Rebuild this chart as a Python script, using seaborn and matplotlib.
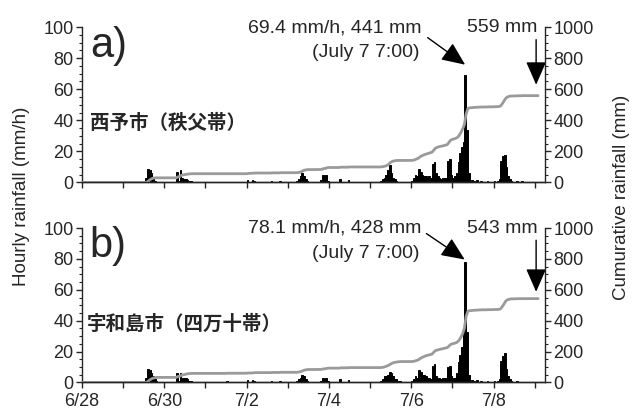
import numpy as np
import pandas as pd
import matplotlib
matplotlib.use('Agg')
import matplotlib.pyplot as plt
from matplotlib.ticker import MultipleLocator
import seaborn as sns

# Hourly rainfall (mm/h); hours counted from 6/28 0:00, only hours with rain listed

hours_a = ([37, 38, 39, 40, 41, 42]
           + [55, 56, 57, 58, 59, 60, 61, 62, 63]
           + [96, 97, 99, 100, 110, 115]
           + [125, 126, 127, 128, 129, 130, 131, 133, 139, 140, 141, 142, 143, 150, 155]
           + list(range(174, 184))
           + list(range(192, 219))
           + [219, 220, 221, 222, 223, 224, 225, 227, 228, 230, 232, 236, 240]
           + list(range(242, 251)) + [253, 256])
rain_a = ([3, 9, 8, 6, 3, 1]
          + [7, 1, 8, 3, 2, 2, 1.5, 1, 1]
          + [1.5, 0.5, 1.5, 1, 1, 1]
          + [1, 2, 4, 6, 4, 2, 1, 0.5, 1.5, 5, 0.5, 5, 1, 2, 1.5]
          + [1, 2, 3, 5, 8, 11, 6, 3, 2, 1]
          + [1, 3, 5, 4, 9, 7, 5, 4, 4, 3, 4, 3, 12, 13.5, 6, 4, 3, 2, 3, 3, 3, 14, 15, 5, 3, 4, 6]
          + [13, 19, 23, 26, 69.4, 34, 6, 1.5, 1, 1.5, 1, 1, 1]
          + [1, 2, 14, 17, 18, 10, 4, 2, 1, 1, 1])

hours_b = ([37, 38, 39, 40, 41, 42, 43]
           + [55, 56, 57, 58, 59, 60, 61, 62, 63]
           + [84, 96, 99, 100, 110, 115]
           + [125, 126, 127, 128, 129, 130, 131, 133, 139, 140, 141, 142, 143, 150, 155]
           + list(range(174, 186))
           + list(range(192, 219))
           + [219, 220, 221, 222, 223, 224, 225, 227, 228, 230, 232, 236, 240]
           + list(range(242, 251)) + [253, 256])
rain_b = ([3, 9, 8, 6, 4, 2, 1]
          + [6, 1, 6, 3, 3, 3, 2, 1, 1]
          + [1, 1.5, 1.5, 1, 1, 1]
          + [1, 2, 3, 5, 4, 2, 1, 0.5, 1, 3, 0.5, 3, 1, 2, 1.5]
          + [1, 2, 4, 4, 5, 7, 6, 4, 2, 2, 1, 1]
          + [1, 2, 4, 3, 8, 7, 5, 5, 4, 3, 3, 2, 11, 12, 4, 3, 3, 2, 3, 3, 2, 10, 11, 4, 3, 3, 6]
          + [13, 18, 23, 33, 78.1, 33, 5, 1.5, 1, 1.5, 1, 1, 1]
          + [1, 2, 14, 17, 19, 9, 4, 2, 1, 1, 0.5])

n_hours = 266
day_labels = ['6/28', '', '6/30', '', '7/2', '', '7/4', '', '7/6', '', '7/8', '']

panels = [
    dict(hours=hours_a, rain=rain_a, tag='a)', site='西予市（秩父帯）', site_x=0.19,
         peak='69.4 mm/h, 441 mm', total='559 mm', tail=(8.40, 93.2), tip=(9.31, 75.8),
         vtop=91.9, vtip=62.9),
    dict(hours=hours_b, rain=rain_b, tag='b)', site='宇和島市（四万十帯）', site_x=0.12,
         peak='78.1 mm/h, 428 mm', total='543 mm', tail=(8.37, 96.4), tip=(9.30, 79.6),
         vtop=92.1, vtip=58.7),
]

sns.set_style('ticks')
plt.rcParams['font.family'] = ['Liberation Sans', 'Noto Sans CJK JP']
plt.rcParams['axes.linewidth'] = 1.0

fig = plt.figure(figsize=(6.32, 4.09), dpi=100)
boxes = [[0.1297, 0.5538, 0.7326, 0.380], [0.1297, 0.0648, 0.7326, 0.3777]]

for i, (p, box) in enumerate(zip(panels, boxes)):
    hourly = np.zeros(n_hours)
    hourly[p['hours']] = p['rain']
    df = pd.DataFrame({'day': (np.arange(n_hours) + 0.5) / 24, 'rain': hourly})
    cum = pd.DataFrame({'day': np.arange(n_hours + 1) / 24,
                        'cum': np.concatenate([[0], np.cumsum(hourly)])})

    ax = fig.add_axes(box)
    sns.histplot(data=df, x='day', weights='rain', binwidth=1 / 24, binrange=(0, n_hours / 24),
                 color='black', alpha=1, edgecolor='black', linewidth=0.7, ax=ax)
    ax2 = ax.twinx()
    sns.lineplot(data=cum, x='day', y='cum', color='#9a9a9a', linewidth=2, ax=ax2)

    ax.set_xlim(0, 11.25)
    ax.set_ylim(0, 100)
    ax2.set_ylim(0, 1000)
    ax.set_xlabel('')
    ax.set_ylabel('')
    ax2.set_ylabel('')
    ax.spines['top'].set_visible(False)
    ax.spines['right'].set_visible(False)
    ax2.spines['top'].set_visible(False)
    ax2.spines['left'].set_visible(False)

    ax.yaxis.set_major_locator(MultipleLocator(20))
    ax.yaxis.set_minor_locator(MultipleLocator(5))
    ax2.yaxis.set_major_locator(MultipleLocator(200))
    ax2.yaxis.set_minor_locator(MultipleLocator(50))
    ax.set_xticks(range(12))
    ax.set_xticklabels(day_labels if i == 1 else [''] * 12)
    for a in (ax, ax2):
        a.tick_params(which='major', direction='out', length=4, width=1, labelsize=13, pad=2)
        a.tick_params(which='minor', direction='out', length=2.5, width=0.8)
    ax.tick_params(axis='x', pad=3.5)

    ax.text(0.19, 101, p['tag'], fontsize=30, va='top', ha='left')
    ax.text(p['site_x'], 37.7, p['site'], fontsize=14, fontweight='bold',
            family=['Noto Sans CJK JP'], va='center', ha='left')
    ax.text(8.25, 99.7, p['peak'], fontsize=14, ha='right', va='center', clip_on=False)
    ax.text(8.20, 83.5, '(July 7 7:00)', fontsize=14, ha='right', va='center')
    ax.text(11.07, 99.5, p['total'], fontsize=14, ha='right', va='center', clip_on=False)

    arrow = dict(arrowstyle='-|>,head_length=0.8,head_width=0.35', color='black',
                 lw=1, mutation_scale=18, shrinkA=0, shrinkB=0)
    ax.annotate('', xy=p['tip'], xytext=p['tail'], arrowprops=arrow, annotation_clip=False)
    ax.annotate('', xy=(11.035, p['vtip']), xytext=(11.035, p['vtop']), arrowprops=arrow,
                annotation_clip=False)

fig.text(22 / 632, 1 - 196 / 409, 'Hourly rainfall (mm/h)', rotation=90,
         ha='center', va='center', fontsize=13.5)
fig.text(622 / 632, 1 - 197 / 409, 'Cumurative rainfall (mm)', rotation=90,
         ha='center', va='center', fontsize=13.5)

fig.savefig('out.png', dpi=100)
